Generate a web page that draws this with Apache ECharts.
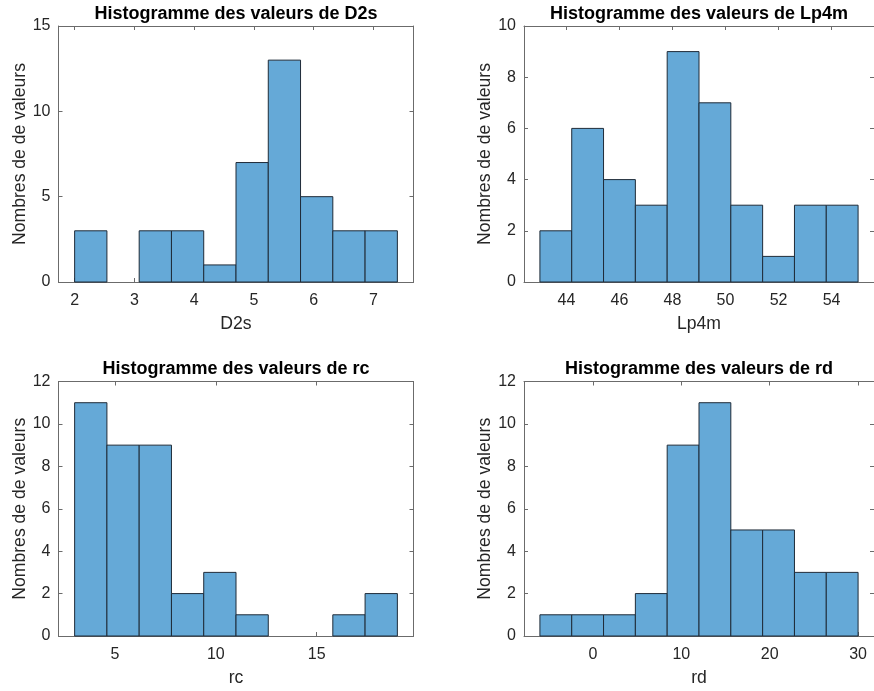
<!DOCTYPE html>
<html>
<head>
<meta charset="utf-8">
<script src="https://cdn.jsdelivr.net/npm/echarts@6/dist/echarts.min.js"></script>
<style>
  html, body { margin: 0; padding: 0; background: #ffffff; }
  #chart { width: 874px; height: 691px; }
</style>
</head>
<body>
<div id="chart"></div>
<script>
// Histogram bin edges and counts for each measured variable
const d2sEdges = [2, 2.54, 3.08, 3.62, 4.16, 4.70, 5.24, 5.78, 6.32, 6.86, 7.40];
const d2sCounts = [3, 0, 3, 3, 1, 7, 13, 5, 3, 3];

const lp4mEdges = [43, 44.2, 45.4, 46.6, 47.8, 49, 50.2, 51.4, 52.6, 53.8, 55];
const lp4mCounts = [2, 6, 4, 3, 9, 7, 3, 1, 3, 3];

const rcEdges = [3, 4.6, 6.2, 7.8, 9.4, 11, 12.6, 14.2, 15.8, 17.4, 19];
const rcCounts = [11, 9, 9, 2, 3, 1, 0, 0, 1, 2];

const rdEdges = [-6, -2.4, 1.2, 4.8, 8.4, 12, 15.6, 19.2, 22.8, 26.4, 30];
const rdCounts = [1, 1, 1, 2, 9, 11, 5, 5, 3, 3];

// Tick labels
const d2sTicks = [2, 3, 4, 5, 6, 7];
const lp4mTicks = [44, 46, 48, 50, 52, 54];
const rcTicks = [5, 10, 15];
const rdTicks = [0, 10, 20, 30];

const yMaxD2s = 15, yStepD2s = 5;
const yMaxLp4m = 10, yStepLp4m = 2;
const yMaxRc = 12, yStepRc = 2;
const yMaxRd = 12, yStepRd = 2;

const variableNames = ['D2s', 'Lp4m', 'rc', 'rd'];
const titlePrefix = 'Histogramme des valeurs de ';
const yName = 'Nombres de de valeurs';

// ---- layout & style ----
const FONT = '"Liberation Sans", Arial, Helvetica, sans-serif';
const TEXT = '#262626';
const AXIS = '#6b6b6b';
const BAR_FILL = '#65a9d7';
const BAR_EDGE = '#1f2b38';
const TICK_SIZE = 16;
const LABEL_SIZE = 17.6;
const TITLE_SIZE = 18;

const panels = [
  { name: variableNames[0], edges: d2sEdges, counts: d2sCounts, ticks: d2sTicks, yMax: yMaxD2s, yStep: yStepD2s,
    left: 58.5, top: 26, width: 355, height: 256 },
  { name: variableNames[1], edges: lp4mEdges, counts: lp4mCounts, ticks: lp4mTicks, yMax: yMaxLp4m, yStep: yStepLp4m,
    left: 524, top: 26, width: 354, height: 256 },
  { name: variableNames[2], edges: rcEdges, counts: rcCounts, ticks: rcTicks, yMax: yMaxRc, yStep: yStepRc,
    left: 58.5, top: 381.5, width: 355, height: 254.5 },
  { name: variableNames[3], edges: rdEdges, counts: rdCounts, ticks: rdTicks, yMax: yMaxRd, yStep: yStepRd,
    left: 524, top: 381.5, width: 354, height: 254.5 }
];

function renderBin(params, api) {
  const x0 = api.value(0), x1 = api.value(1), c = api.value(2);
  if (!c) return null;
  const p0 = api.coord([x0, 0]);
  const p1 = api.coord([x1, c]);
  return {
    type: 'rect',
    shape: { x: p0[0], y: p1[1], width: p1[0] - p0[0], height: p0[1] - p1[1] },
    style: { fill: BAR_FILL, stroke: BAR_EDGE, lineWidth: 1 }
  };
}

const grid = [], xAxis = [], yAxis = [], series = [], title = [];

panels.forEach((p, i) => {
  const lo = p.edges[0], hi = p.edges[p.edges.length - 1];
  const pad = (hi - lo) * 0.05;
  const xMin = lo - pad, xMax = hi + pad;

  grid.push({ left: p.left, top: p.top, width: p.width, height: p.height, containLabel: false });

  title.push({
    text: titlePrefix + p.name,
    left: p.left + p.width / 2 - (i % 2 === 1 ? 2 : 0),
    top: p.top - 21,
    padding: 0,
    textAlign: 'center',
    textStyle: { fontFamily: FONT, fontSize: TITLE_SIZE, fontWeight: 'bold', color: '#000' }
  });

  const lineStyle = { color: AXIS, width: 1 };
  // bottom axis with labels
  xAxis.push({
    gridIndex: i, type: 'value', min: xMin, max: xMax, position: 'bottom',
    name: p.name, nameLocation: 'middle', nameGap: 33,
    nameTextStyle: { fontFamily: FONT, fontSize: LABEL_SIZE, color: TEXT },
    axisLine: { show: true, onZero: false, lineStyle },
    axisTick: { show: true, inside: true, length: 4, lineStyle, customValues: p.ticks },
    axisLabel: { show: true, margin: 11, fontFamily: FONT, fontSize: TICK_SIZE, color: TEXT, customValues: p.ticks },
    splitLine: { show: false }
  });
  // top mirror axis
  xAxis.push({
    gridIndex: i, type: 'value', min: xMin, max: xMax, position: 'top',
    axisLine: { show: true, onZero: false, lineStyle },
    axisTick: { show: true, inside: true, length: 4, lineStyle, customValues: p.ticks },
    axisLabel: { show: false, customValues: p.ticks },
    splitLine: { show: false }
  });
  // left axis with labels
  yAxis.push({
    gridIndex: i, type: 'value', min: 0, max: p.yMax, interval: p.yStep, position: 'left',
    name: yName, nameLocation: 'middle', nameGap: 29,
    nameTextStyle: { fontFamily: FONT, fontSize: LABEL_SIZE, color: TEXT },
    axisLine: { show: true, onZero: false, lineStyle },
    axisTick: { show: true, inside: true, length: 4, lineStyle },
    axisLabel: { show: true, margin: 8, fontFamily: FONT, fontSize: TICK_SIZE, color: TEXT },
    splitLine: { show: false }
  });
  // right mirror axis
  yAxis.push({
    gridIndex: i, type: 'value', min: 0, max: p.yMax, interval: p.yStep, position: 'right',
    axisLine: { show: true, onZero: false, lineStyle },
    axisTick: { show: true, inside: true, length: 4, lineStyle },
    axisLabel: { show: false },
    splitLine: { show: false }
  });

  const data = p.counts.map((c, k) => [p.edges[k], p.edges[k + 1], c]);
  series.push({
    type: 'custom',
    xAxisIndex: 2 * i,
    yAxisIndex: 2 * i,
    renderItem: renderBin,
    encode: { x: [0, 1], y: 2 },
    data: data,
    silent: true,
    z: 1
  });
});

const chart = echarts.init(document.getElementById('chart'), null, { renderer: 'canvas' });
chart.setOption({
  animation: false,
  backgroundColor: '#ffffff',
  title, grid, xAxis, yAxis, series
});
</script>
</body>
</html>
